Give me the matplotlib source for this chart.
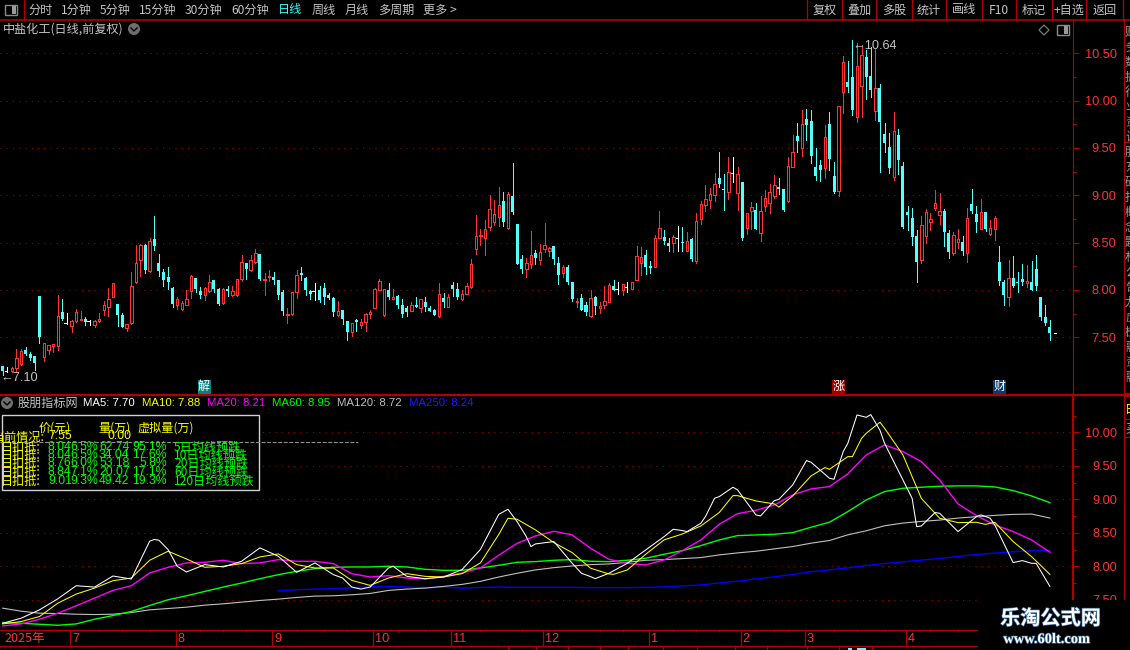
import matplotlib
matplotlib.use('Agg')
import matplotlib.pyplot as plt
import matplotlib.patheffects as pe
from matplotlib.patches import Rectangle, Circle, Polygon
import numpy as np

plt.rcParams['font.family'] = ['Noto Sans CJK SC', 'DejaVu Sans']

W, H = 1130, 650

# K线 open/close/high/low
opens = [7.195,7.14,7.145,7.18,7.22,7.365,7.32,7.30,7.94,7.295,7.365,7.41,7.41,7.77,7.655,7.62,7.675,7.685,7.695,7.67,7.635,7.67,7.79,7.815,7.93,7.855,7.74,7.595,7.65,8.08,
         8.32,8.47,8.205,8.535,8.28,8.19,8.14,8.025,7.84,7.80,7.845,7.985,8.13,7.99,7.945,7.99,8.10,8.01,7.86,8.015,7.945,7.945,8.12,8.28,8.215,8.30,8.385,8.10,8.14,8.14,
         8.105,7.975,7.74,7.745,7.975,8.18,8.13,7.99,7.985,7.995,8.025,7.95,7.92,7.74,7.79,7.675,7.56,7.685,7.635,7.665,7.745,7.81,8.00,7.74,8.00,7.90,7.94,7.845,7.81,7.775,
         7.845,7.805,7.875,7.805,7.79,7.73,7.91,7.815,8.055,8.015,7.90,7.955,8.035,8.43,8.565,8.545,8.66,8.72,8.775,8.94,8.65,8.99,8.70,8.33,8.225,8.275,8.39,8.32,8.435,8.415,
         8.46,8.29,8.18,8.245,8.085,7.87,7.91,7.845,7.73,7.93,7.805,7.845,7.875,8.045,8.01,8.00,8.03,8.015,8.11,8.29,8.37,8.255,8.245,8.55,8.56,8.50,8.50,8.55,8.51,8.415,
         8.54,8.31,8.75,8.90,8.95,9.00,9.18,9.065,9.035,9.24,9.025,9.14,8.655,8.835,8.845,8.605,8.885,8.915,8.995,9.088,9.065,8.94,9.30,9.625,9.495,9.805,9.785,9.30,9.32,9.29,
         9.753,9.205,9.045,10.09,10.197,10.25,9.827,10.158,10.46,10.26,9.89,10.133,9.647,9.51,9.193,9.637,9.31,8.823,8.76,8.57,8.316,8.57,8.721,8.866,8.795,8.834,8.602,8.39,8.506,8.506,
         8.394,8.908,8.80,8.644,8.823,8.591,8.644,8.295,8.084,7.926,8.126,8.084,8.116,8.073,8.084,8.221,7.926,7.714,7.609]
closes = [7.145,7.14,7.18,7.28,7.355,7.32,7.28,7.225,7.50,7.435,7.415,7.425,7.73,7.695,7.655,7.67,7.77,7.695,7.665,7.67,7.67,7.69,7.845,7.905,8.07,7.74,7.61,7.64,8.045,8.29,
          8.48,8.215,8.52,8.465,8.20,8.11,8.08,7.855,7.90,7.86,7.905,8.15,8.015,7.95,8.025,8.085,8.015,7.85,8.01,7.985,7.99,8.115,8.30,8.225,8.32,8.39,8.115,8.115,8.15,8.11,
          7.95,7.78,7.75,7.98,8.16,8.155,8.00,7.96,7.985,7.89,7.93,7.915,7.77,7.78,7.695,7.56,7.65,7.665,7.665,7.75,7.77,8.01,8.09,8.014,7.925,7.925,7.845,7.75,7.77,7.84,
          7.825,7.90,7.815,7.78,7.74,7.96,7.875,7.925,8.015,7.93,7.96,8.045,8.275,8.57,8.58,8.64,8.85,8.80,8.895,8.72,9.01,8.825,8.275,8.225,8.285,8.37,8.34,8.40,8.475,8.44,
          8.33,8.16,8.24,8.085,7.90,7.885,7.79,7.77,7.91,7.835,7.83,7.885,8.05,8.00,8.01,8.06,8.03,8.08,8.355,8.35,8.245,8.235,8.545,8.65,8.52,8.465,8.555,8.55,8.50,8.515,
          8.33,8.73,8.91,8.96,9.01,9.12,9.115,9.055,9.245,9.24,9.225,8.55,8.81,8.875,8.645,8.83,8.97,9.03,9.105,9.065,8.84,9.305,9.455,9.575,9.75,9.745,9.415,9.205,9.27,9.615,
          9.383,9.035,9.94,10.408,10.144,9.90,10.365,10.482,10.25,10.112,10.13,9.774,9.552,9.288,9.676,9.373,8.665,8.79,8.56,8.295,8.686,8.823,8.746,8.918,8.83,8.612,8.40,8.58,8.535,8.411,
          8.76,8.834,8.718,8.823,8.644,8.651,8.76,8.095,7.947,8.126,8.042,8.073,8.084,8.091,8.0,8.042,7.718,7.651,7.545]
highs = [7.195,7.19,7.19,7.38,7.375,7.395,7.35,7.30,7.94,7.435,7.42,7.425,7.95,7.90,7.76,7.68,7.80,7.78,7.71,7.68,7.68,7.755,7.88,8.02,8.075,7.855,7.755,7.64,8.19,8.47,
         8.49,8.49,8.545,8.785,8.375,8.22,8.245,8.03,7.93,7.88,7.995,8.16,8.13,8.03,8.03,8.16,8.10,8.02,8.02,8.045,8.045,8.115,8.365,8.285,8.365,8.43,8.385,8.175,8.215,8.19,
         8.11,7.995,7.81,7.98,8.215,8.245,8.14,7.995,8.07,8.045,8.07,7.97,7.93,7.885,7.79,7.675,7.65,7.695,7.69,7.76,7.79,8.02,8.115,8.014,8.075,8.01,7.95,7.90,7.835,7.875,
         7.925,7.90,7.925,7.835,7.80,8.075,7.97,7.96,8.085,8.075,8.00,8.075,8.325,8.79,8.645,8.74,9.00,8.95,9.09,9.035,9.04,9.34,8.70,8.37,8.34,8.625,8.425,8.485,8.71,8.455,
         8.46,8.35,8.265,8.265,8.085,7.91,7.96,7.875,7.995,7.94,7.875,8.045,8.075,8.10,8.08,8.06,8.08,8.08,8.465,8.455,8.425,8.31,8.58,8.835,8.635,8.55,8.58,8.68,8.67,8.615,
         8.55,8.815,8.94,9.11,9.075,9.235,9.455,9.225,9.40,9.40,9.30,9.14,8.81,8.93,8.92,8.995,9.055,9.12,9.21,9.18,9.065,9.405,9.635,9.76,9.90,9.91,9.90,9.50,9.373,9.742,
         9.88,9.352,9.94,10.47,10.42,10.64,10.605,10.587,10.535,10.57,10.55,10.176,9.764,9.658,9.88,9.70,9.352,8.887,8.866,8.633,8.78,8.855,8.813,9.056,9.024,8.855,8.633,8.612,8.644,8.57,
         8.866,9.066,8.887,8.96,8.823,8.739,8.781,8.464,8.105,8.316,8.359,8.19,8.274,8.264,8.306,8.369,7.926,7.841,7.683]
lows = [7.10,7.135,7.135,7.135,7.205,7.31,7.26,7.15,7.44,7.25,7.32,7.35,7.365,7.68,7.64,7.56,7.66,7.685,7.63,7.635,7.61,7.665,7.74,7.72,7.93,7.62,7.605,7.57,7.64,8.075,
        8.145,8.175,8.19,8.42,8.145,8.04,8.005,7.82,7.80,7.79,7.84,7.92,7.975,7.915,7.89,7.975,7.975,7.845,7.855,7.94,7.94,7.94,8.09,8.12,8.20,8.28,8.10,7.945,8.09,8.06,
        7.905,7.74,7.65,7.74,7.91,8.10,7.945,7.905,7.89,7.87,7.85,7.90,7.72,7.725,7.64,7.475,7.51,7.57,7.595,7.57,7.70,7.805,7.995,7.72,7.90,7.90,7.805,7.71,7.72,7.775,
        7.815,7.765,7.78,7.775,7.735,7.71,7.815,7.815,7.94,7.90,7.89,7.955,8.02,8.38,8.475,8.37,8.635,8.685,8.675,8.675,8.645,8.80,8.275,8.18,8.14,8.235,8.275,8.275,8.405,8.36,
        8.275,8.065,8.14,8.065,7.885,7.825,7.79,7.74,7.71,7.75,7.76,7.805,7.875,8.00,7.96,7.95,7.98,8.015,8.10,8.16,8.17,8.18,8.245,8.55,8.485,8.415,8.405,8.415,8.415,8.415,
        8.31,8.29,8.70,8.835,8.865,8.94,9.09,8.845,8.96,9.14,8.845,8.53,8.59,8.645,8.645,8.52,8.835,8.815,8.97,9.01,8.83,8.93,9.30,9.457,9.42,9.585,9.34,9.16,9.15,9.18,
        9.267,9.025,8.993,9.87,10.09,9.85,9.774,9.827,10.017,10.04,9.795,9.246,9.457,9.235,9.16,9.225,8.655,8.633,8.475,8.084,8.285,8.496,8.633,8.845,8.697,8.464,8.338,8.37,8.443,8.37,
        8.295,8.813,8.612,8.644,8.623,8.58,8.528,8.052,7.841,7.83,8.03,7.98,8.052,8.03,8.0,8.0,7.683,7.63,7.471]

# 均线,每4根K线读一个点
ma_idx = list(range(0, 229, 4))
ma5 = [7.15,7.225,7.35,7.515,7.71,7.69,7.855,7.81,8.375,8.25,7.915,8.025,7.99,8.075,8.275,8.15,7.91,8.05,7.875,7.69,7.69,7.975,7.85,7.815,7.84,7.95,8.25,8.775,
       8.667,8.334,8.369,8.045,7.846,7.896,8.045,8.244,8.443,8.533,8.642,9.04,9.14,8.767,8.98,9.214,9.553,9.314,9.836,10.224,9.836,9.289,8.602,8.791,8.518,8.742,8.617,8.055,8.045,7.70]
ma10 = [7.14,7.175,7.25,7.45,7.585,7.675,7.785,7.825,8.09,8.225,8.11,7.985,8.0,8.04,8.14,8.185,8.025,7.975,7.975,7.79,7.715,7.825,7.89,7.85,7.84,7.89,8.05,8.475,
        8.702,8.543,8.354,8.204,7.971,7.886,7.946,8.18,8.394,8.483,8.602,8.802,9.055,8.975,8.931,9.05,9.349,9.448,9.637,9.985,10.06,9.662,9.015,8.717,8.652,8.657,8.657,8.369,8.145,7.88]
ma20 = [7.11,7.14,7.21,7.30,7.41,7.525,7.64,7.71,7.90,7.985,8.05,8.06,8.09,8.04,8.05,8.10,8.075,8.075,8.04,7.89,7.84,7.86,7.825,7.81,7.85,7.90,7.975,8.165,
        8.344,8.453,8.523,8.468,8.269,8.105,8.045,8.02,8.095,8.234,8.394,8.627,8.786,8.836,8.916,9.065,9.155,9.19,9.379,9.662,9.812,9.712,9.563,9.289,8.931,8.757,8.617,8.518,8.394,8.21]
ma60 = [7.16,7.15,7.135,7.12,7.14,7.21,7.265,7.325,7.415,7.50,7.56,7.625,7.69,7.75,7.815,7.875,7.925,7.965,7.985,7.99,7.99,8.0,7.99,7.955,7.94,7.94,7.975,8.015,
        8.06,8.07,8.09,8.10,8.075,8.07,8.09,8.12,8.18,8.234,8.309,8.393,8.458,8.468,8.478,8.503,8.583,8.658,8.816,8.99,9.115,9.165,9.18,9.195,9.2,9.2,9.185,9.13,9.05,8.95]
ma120 = [7.375,7.33,7.30,7.295,7.285,7.28,7.285,7.31,7.35,7.37,7.39,7.42,7.44,7.465,7.49,7.51,7.535,7.555,7.56,7.575,7.595,7.64,7.66,7.675,7.70,7.73,7.775,7.84,
         7.896,7.946,7.98,8.005,8.025,8.035,8.06,8.09,8.10,8.115,8.13,8.17,8.20,8.225,8.26,8.295,8.345,8.385,8.47,8.53,8.605,8.645,8.67,8.69,8.72,8.74,8.76,8.775,8.78,8.72]
ma250 = [np.nan]*15 + [7.635,7.65,7.66,7.665,7.68,7.695,7.70,7.69,7.68,7.69,7.675,7.685,7.69,
         7.687,7.687,7.687,7.687,7.682,7.682,7.682,7.687,7.692,7.707,7.722,7.752,7.777,7.813,7.843,7.878,7.918,7.947,7.977,8.012,8.042,8.067,8.092,8.117,8.147,8.177,8.197,8.217,8.232,8.24]

# 短均线转折多,另外补读几个点
ma5_extra_idx = [33,34,38,74,78,85,110,114,115,126,129,146,149,153,155,159,165,169,175,181,183,186,189,191,198,199,203,213,215,222,225]
ma5_extra = [8.40,8.39,8.0,7.825,7.66,8.0,8.851,8.443,8.294,7.896,7.816,8.553,8.518,8.742,9.016,9.18,8.752,9.0,9.578,9.299,9.712,10.259,10.264,10.03,9.015,8.592,8.802,8.767,8.717,8.085,8.045]
ma10_extra_idx = [110,133,159,169,179,185,187,191,214]
ma10_extra = [8.717,7.88,9.055,8.883,9.473,9.637,9.91,10.15,8.626]

ma_series = [ma250, ma120, ma60, ma20, ma10, ma5]
ma_extras = [([], []), ([], []), ([], []), ([], []), (ma10_extra_idx, ma10_extra), (ma5_extra_idx, ma5_extra)]
ma_colors = ['#0000ff', '#c0c0c0', '#00ff00', '#ff00ff', '#ffff00', '#ffffff']
ma_widths = [1.0, 0.8, 1.0, 1.0, 0.75, 0.75]

top_ticks = [7.5, 8.0, 8.5, 9.0, 9.5, 10.0, 10.5]
top_minor = [7.75, 8.25, 8.75, 9.25, 9.75, 10.25]
low_ticks = [7.5, 8.0, 8.5, 9.0, 9.5, 10.0]
low_minor = [7.75, 8.25, 8.75, 9.25, 9.75, 10.25]

month_labels = ['7', '8', '9', '10', '11', '12', '1', '2', '3', '4']
month_idx = [15, 38, 59, 81, 98, 118, 141, 161, 175, 197]
week_idx = [21,26,32,43,48,53,64,70,75,86,92,104,113,130,135,146,151,156,164,168,171,181,186,192,202,208]

tool_left = ['分时','1分钟','5分钟','15分钟','30分钟','60分钟','日线','周线','月线','多周期','更多 >']
tool_x = [28,61,100,139,185,231,278,312,345,378,423]
tool_right = ['复权','叠加','多股','统计','画线','F10','标记','+自选','返回']
tool_sep = [807,842,876,912,946,982,1016,1052,1086,1123]

ma_header = ['MA5: 7.70','MA10: 7.88','MA20: 8.21','MA60: 8.95','MA120: 8.72','MA250: 8.24']
ma_header_x = [83,142,207,272,337,409]
ma_header_c = ['#ffffff','#ffff00','#ff00ff','#00ff00','#c0c0c0','#1a1aff']

row_price = ['8.04','8.04','8.76','8.84','9.01']
row_pct = ['6.5%','6.5%','6.0%','7.1%','9.3%']
row_vol = ['62.74','34.04','53.18','20.07','49.42']
row_vpct = ['95.1%','17.6%','5.8%','17.1%','19.3%']
row_name = ['5日均线预跌','10日均线预跌','20日均线预跌','60日均线预跌','120日均线预跌']

side_chars = '财务数据行业资讯股东研报概念题材公告龙虎榜融资融券主力资金流向'

RED = '#ff3232'
LINE = '#b00000'
GRID = '#8c0a0a'
CYAN = '#54ffff'
GRAY = '#c4c4c4'
NUM = 'Liberation Sans'

fig = plt.figure(figsize=(W / 100, H / 100), dpi=100, facecolor='black')


def px_axes(x0, y0, x1, y1, **kw):
    # 用像素位置建坐标轴,y向下数
    return fig.add_axes([x0 / W, 1 - y1 / H, (x1 - x0) / W, (y1 - y0) / H], facecolor='black', **kw)


def idx_at(px):
    return (px - 2.7) / 4.593


def setup_price_axis(ax, ticks, minor):
    for s in ['top', 'left', 'bottom']:
        ax.spines[s].set_visible(False)
    ax.spines['right'].set_color(LINE)
    ax.yaxis.tick_right()
    ax.set_xticks([])
    ax.set_yticks(ticks)
    ax.set_yticklabels([f'{t:.2f}' for t in ticks], family=NUM, fontsize=9.2, color=RED, ha='right')
    ax.set_yticks(minor, minor=True)
    ax.tick_params(axis='y', which='major', length=4.3, width=0.8, color=LINE, pad=27.5)
    ax.tick_params(axis='y', which='minor', length=2.2, width=0.8, color=LINE)
    ax.grid(axis='y', which='major', color=GRID, lw=0.75, ls=(0, (1, 5.0)))
    ax.set_axisbelow(True)


# 上面K线
ax = px_axes(0, 19.5, 1072.5, 394)
ax.set_xlim(idx_at(0), idx_at(1072.5))
ax.set_ylim(7.5 - (394 - 337.3) / 94.67, 7.5 + (337.3 - 19.5) / 94.67)
setup_price_axis(ax, top_ticks, top_minor)

for i, (o, c, h, l) in enumerate(zip(opens, closes, highs, lows)):
    if o == c:
        ax.vlines(i, l, h, color='white', lw=0.55, antialiased=False)
        ax.plot([i - 0.6, i], [c, c], color='white', lw=0.55, antialiased=False)
    elif c > o:
        ax.vlines(i, c, h, color=RED, lw=0.55, antialiased=False)
        ax.vlines(i, l, o, color=RED, lw=0.55, antialiased=False)
        ax.add_patch(Rectangle((i - 0.27, o), 0.54, c - o, facecolor='black', edgecolor=RED, lw=0.55,
                               antialiased=False, zorder=3))
    else:
        ax.vlines(i, l, h, color=CYAN, lw=0.55, antialiased=False)
        ax.add_patch(Rectangle((i - 0.33, c), 0.66, o - c, facecolor=CYAN, edgecolor='none',
                               antialiased=False, zorder=3))

# 最新价的小白线
ax.plot([len(opens) - 0.1, len(opens) + 0.4], [closes[-1], closes[-1]], color='white', lw=0.6, antialiased=False)
ax.annotate(f'←{max(highs):.2f}', (np.argmax(highs) + 0.1, max(highs)), xytext=(0, -4), textcoords='offset points',
            family=NUM, fontsize=9.2, color=GRAY, va='center')
ax.annotate(f'←{min(lows):.2f}', (-0.4, min(lows)), xytext=(0, -2), textcoords='offset points',
            family=NUM, fontsize=9.2, color=GRAY, va='center')

# 下面均线
ax2 = px_axes(0, 395, 1073, 630)
ax2.set_xlim(idx_at(0), idx_at(1073))
ax2.set_ylim(8.0 - (630 - 566.3) / 67, 10 + (432.3 - 395) / 67)
setup_price_axis(ax2, low_ticks, low_minor)
ax2.spines['right'].set_linewidth(1.6)
for vals, extra, col, lw in zip(ma_series, ma_extras, ma_colors, ma_widths):
    xs = np.array(ma_idx + list(extra[0]), dtype=float)
    ys = np.array(list(vals) + list(extra[1]), dtype=float)
    order = np.argsort(xs)
    ax2.plot(xs[order], ys[order], color=col, lw=lw)

# 日期条
ax3 = px_axes(0, 630, 978, 646)
ax3.set_xlim(idx_at(0), idx_at(978))
ax3.set_ylim(0, 1)
for s in ['left', 'right']:
    ax3.spines[s].set_visible(False)
for s in ['top', 'bottom']:
    ax3.spines[s].set_color(LINE)
    ax3.spines[s].set_linewidth(1.0)
ax3.set_yticks([])
ax3.set_xticks([])
ax3.set_xticks(week_idx, minor=True)
ax3.tick_params(axis='x', which='minor', direction='in', top=True, bottom=False, length=1.6, width=0.8, color=LINE)
ax3.text(0.4, 0.45, '2025年', fontsize=9, color=RED, va='center')
for lab, pos in zip(month_labels, month_idx):
    ax3.vlines(pos - 0.3, 0, 1, color=LINE, lw=0.9)
    ax3.text(pos + 0.1, 0.45, lab, family=NUM, fontsize=9.2, color=RED, va='center')

# 工具条和其它界面元素,按像素画
ui = fig.add_axes([0, 0, 1, 1], facecolor='none', zorder=10)
ui.set_xlim(0, W)
ui.set_ylim(H, 0)
ui.axis('off')

ui.plot([0, W], [19.5, 19.5], color=LINE, lw=1.2)
ui.plot([0, W], [394.5, 394.5], color=LINE, lw=1.6)
ui.plot([23.5, 23.5], [0, 19.5], color=LINE, lw=1)
for i, t in enumerate(tool_left):
    ui.text(tool_x[i], 10, t, fontsize=8.7, color='#30ffff' if t == '日线' else GRAY, va='center')
for i, t in enumerate(tool_right):
    ui.text((tool_sep[i] + tool_sep[i + 1]) / 2, 10, t, fontsize=8.7, color=GRAY, va='center', ha='center')
for x in tool_sep:
    ui.plot([x, x], [0, 19.5], color=LINE, lw=0.9)

# 小图标
for x0, y0 in [(5, 5), (1057, 25)]:
    ui.add_patch(Rectangle((x0, y0), 12, 10, facecolor='black', edgecolor='#8a8a8a', lw=1))
    ui.add_patch(Rectangle((x0 + 7, y0 + 1), 4, 8, facecolor='#9a9a9a', edgecolor='none'))
ui.add_patch(Polygon([(1039, 30), (1044, 25), (1049, 30), (1044, 35)], closed=True, facecolor='none', edgecolor='#7a7a7a', lw=0.9))
for cx, cy in [(134, 29), (7, 403)]:
    ui.add_patch(Circle((cx, cy), 6, facecolor='#6e6e6e', edgecolor='none'))
    ui.plot([cx - 3, cx, cx + 3], [cy - 1, cy + 2, cy - 1], color='black', lw=1)

ui.text(3, 29, '中盐化工(日线,前复权)', fontsize=8.7, color=GRAY, va='center')

# 信号小方块
for x0, lab, col in [(197.5, '解', '#0a7d7d'), (832, '涨', '#a00000'), (993, '财', '#0a3a70')]:
    ui.add_patch(Rectangle((x0, 380), 13, 14, facecolor=col, edgecolor='none', zorder=4))
    ui.text(x0 + 6.5, 386.5, lab, fontsize=8.7, color='white', ha='center', va='center', zorder=5)

# 副图标题
ui.text(18, 403, '股朋指标网', fontsize=8.7, color=GRAY, va='center')
for x, t, c in zip(ma_header_x, ma_header, ma_header_c):
    ui.text(x, 403, t, family=NUM, fontsize=8.2, color=c, va='center')

# 左上信息框
ui.add_patch(Rectangle((1.5, 414.5), 257, 75, facecolor='black', edgecolor='#d0d0d0', lw=1, zorder=2))
ui.plot([0, 358], [441.5, 441.5], color='#909090', lw=0.8, ls=(0, (3.5, 1.5)), zorder=3)
for x, t in [(39, '价(元)'), (98, '量(万)'), (138, '虚拟量(万)')]:
    ui.text(x, 428, t, fontsize=8.7, color='#ffff00', va='center', zorder=4)
ui.text(-7, 437, '当前情况:', fontsize=8.7, color='#ffff00', va='center', zorder=4)
ui.text(48, 436, '7.55', family=NUM, fontsize=8.8, color='#ffff00', va='center', zorder=4)
ui.text(107, 436, '0.00', family=NUM, fontsize=8.8, color='#ffff00', va='center', zorder=4)
for i, y in enumerate([447, 455, 463.5, 472, 481]):
    ui.text(1, y, '日扣抵:', fontsize=8.7, color='#ffff00', va='center', zorder=4)
    ui.text(48, y, row_price[i], family=NUM, fontsize=8.8, color='#00ff00', va='center', zorder=4)
    ui.text(70, y, row_pct[i], family=NUM, fontsize=8.8, color='#00ff00', va='center', zorder=4)
    ui.text(99, y, row_vol[i], family=NUM, fontsize=8.8, color='#00ff00', va='center', zorder=4)
    ui.text(167, y, row_vpct[i], family=NUM, fontsize=8.8, color='#00ff00', va='center', ha='right', zorder=4)
    ui.text(174, y, row_name[i], fontsize=8.7, color='#00ff00', va='center', zorder=4)

# 最右边被裁掉的侧栏
ui.plot([1123.5, 1123.5], [19.5, 650], color=LINE, lw=0.9)
for y in [35, 45, 142, 239, 335, 393, 396, 419, 437]:
    ui.plot([1123.5, W], [y, y], color=LINE, lw=0.9)
for k, ch in enumerate(side_chars[:24]):
    ui.text(1125, 32 + k * 15, ch, fontsize=8.7, color='#9a9a9a', va='center')
ui.text(1125, 410, '日', fontsize=8.7, color='#ffff00', va='center')
ui.text(1125, 429, '买', fontsize=8.7, color='#b0b0b0', va='center')

# 底部被裁掉的一行
for x in [508, 536, 568, 600, 628, 663, 697, 735, 767, 807, 839, 872]:
    ui.plot([x, x], [646, 650], color=LINE, lw=0.9)
ui.add_patch(Rectangle((848, 648), 4, 2, facecolor=CYAN, edgecolor='none'))
ui.add_patch(Rectangle((857, 648), 9, 2, facecolor=CYAN, edgecolor='none'))

# 水印
ui.add_patch(Rectangle((978, 600), W - 978, 50, facecolor='black', edgecolor='none', zorder=6))
glow = [pe.withStroke(linewidth=1.0, foreground='#2c5f96')]
ui.text(1050.5, 618, '乐淘公式网', fontsize=14.5, fontweight='bold', color='white', ha='center', va='center',
        zorder=7, path_effects=glow)
ui.text(1046.5, 639.5, 'www.60lt.com', family='Liberation Serif', fontsize=10.4, fontweight='bold', color='white',
        ha='center', va='center', zorder=7, path_effects=glow)

fig.savefig('out.png', dpi=100, facecolor='black')
